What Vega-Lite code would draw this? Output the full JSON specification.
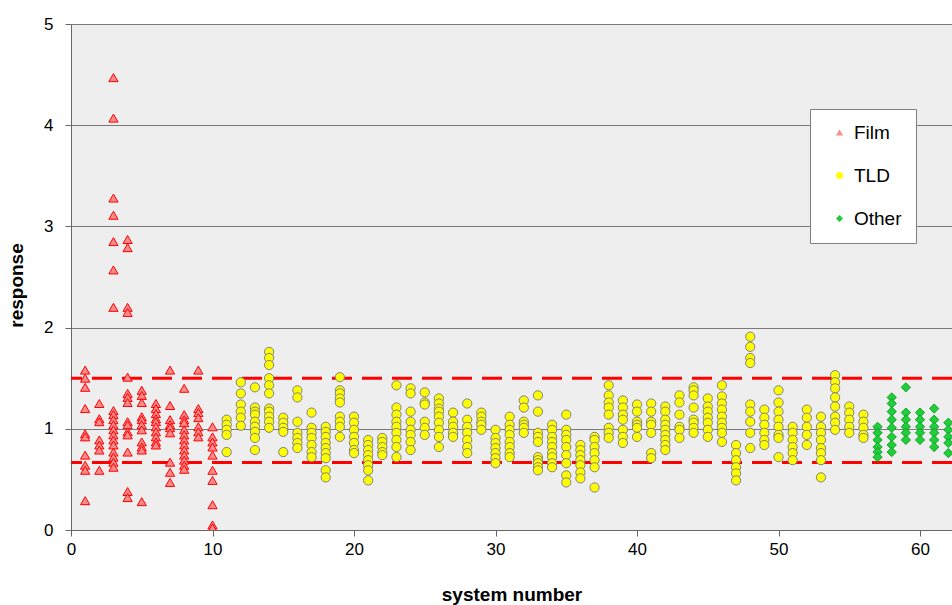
{
  "$schema": "https://vega.github.io/schema/vega-lite/v6.json",
  "autosize": {"type": "none"},
  "padding": {"left": 71, "top": 24, "right": 0, "bottom": 75},
  "width": 881,
  "height": 506,
  "background": "white",
  "config": {
    "view": {"fill": "#eeeeee", "stroke": null},
    "font": "Liberation Sans",
    "axis": {"labelFont": "Liberation Sans", "titleFont": "Liberation Sans", "labelFontSize": 17, "titleFontSize": 19, "titleFontWeight": "bold", "labelColor": "#000", "titleColor": "#000", "gridColor": "#7a7a7a", "gridWidth": 1, "domainColor": "#666", "tickColor": "#666", "tickSize": 6},
    "legend": {"title": null, "orient": "none", "legendX": 739, "legendY": 85, "padding": 14, "rowPadding": 23, "labelFontSize": 19, "labelFont": "Liberation Sans", "labelColor": "#000", "symbolSize": 50, "symbolStrokeWidth": 0, "strokeColor": "#808080", "fillColor": "#ffffff", "labelOffset": 5, "symbolOffset": 6}
  },
  "datasets": {
    "pts": [
      {"s":1,"r":1.58,"t":"Film"},{"s":1,"r":1.5,"t":"Film"},{"s":1,"r":1.41,"t":"Film"},{"s":1,"r":1.2,"t":"Film"},{"s":1,"r":0.95,"t":"Film"},{"s":1,"r":0.92,"t":"Film"},{"s":1,"r":0.74,"t":"Film"},{"s":1,"r":0.64,"t":"Film"},{"s":1,"r":0.59,"t":"Film"},{"s":1,"r":0.29,"t":"Film"},
      {"s":2,"r":1.25,"t":"Film"},{"s":2,"r":1.1,"t":"Film"},{"s":2,"r":1.07,"t":"Film"},{"s":2,"r":0.89,"t":"Film"},{"s":2,"r":0.84,"t":"Film"},{"s":2,"r":0.79,"t":"Film"},{"s":2,"r":0.59,"t":"Film"},
      {"s":3,"r":4.47,"t":"Film"},{"s":3,"r":4.07,"t":"Film"},{"s":3,"r":3.28,"t":"Film"},{"s":3,"r":3.11,"t":"Film"},{"s":3,"r":2.85,"t":"Film"},{"s":3,"r":2.57,"t":"Film"},{"s":3,"r":2.2,"t":"Film"},{"s":3,"r":1.18,"t":"Film"},{"s":3,"r":1.14,"t":"Film"},{"s":3,"r":1.09,"t":"Film"},{"s":3,"r":1.04,"t":"Film"},{"s":3,"r":0.99,"t":"Film"},{"s":3,"r":0.94,"t":"Film"},{"s":3,"r":0.89,"t":"Film"},{"s":3,"r":0.84,"t":"Film"},{"s":3,"r":0.77,"t":"Film"},{"s":3,"r":0.72,"t":"Film"},{"s":3,"r":0.67,"t":"Film"},{"s":3,"r":0.62,"t":"Film"},
      {"s":4,"r":2.87,"t":"Film"},{"s":4,"r":2.79,"t":"Film"},{"s":4,"r":2.2,"t":"Film"},{"s":4,"r":2.15,"t":"Film"},{"s":4,"r":1.51,"t":"Film"},{"s":4,"r":1.35,"t":"Film"},{"s":4,"r":1.31,"t":"Film"},{"s":4,"r":1.26,"t":"Film"},{"s":4,"r":1.07,"t":"Film"},{"s":4,"r":1.04,"t":"Film"},{"s":4,"r":0.97,"t":"Film"},{"s":4,"r":0.94,"t":"Film"},{"s":4,"r":0.77,"t":"Film"},{"s":4,"r":0.38,"t":"Film"},{"s":4,"r":0.32,"t":"Film"},
      {"s":5,"r":1.38,"t":"Film"},{"s":5,"r":1.33,"t":"Film"},{"s":5,"r":1.26,"t":"Film"},{"s":5,"r":1.12,"t":"Film"},{"s":5,"r":1.09,"t":"Film"},{"s":5,"r":1.04,"t":"Film"},{"s":5,"r":0.99,"t":"Film"},{"s":5,"r":0.87,"t":"Film"},{"s":5,"r":0.82,"t":"Film"},{"s":5,"r":0.79,"t":"Film"},{"s":5,"r":0.28,"t":"Film"},
      {"s":6,"r":1.25,"t":"Film"},{"s":6,"r":1.2,"t":"Film"},{"s":6,"r":1.15,"t":"Film"},{"s":6,"r":1.1,"t":"Film"},{"s":6,"r":1.07,"t":"Film"},{"s":6,"r":1.02,"t":"Film"},{"s":6,"r":0.97,"t":"Film"},{"s":6,"r":0.92,"t":"Film"},{"s":6,"r":0.87,"t":"Film"},{"s":6,"r":0.84,"t":"Film"},
      {"s":7,"r":1.58,"t":"Film"},{"s":7,"r":1.23,"t":"Film"},{"s":7,"r":1.09,"t":"Film"},{"s":7,"r":1.04,"t":"Film"},{"s":7,"r":1.01,"t":"Film"},{"s":7,"r":0.96,"t":"Film"},{"s":7,"r":0.67,"t":"Film"},{"s":7,"r":0.57,"t":"Film"},{"s":7,"r":0.47,"t":"Film"},
      {"s":8,"r":1.4,"t":"Film"},{"s":8,"r":1.14,"t":"Film"},{"s":8,"r":1.09,"t":"Film"},{"s":8,"r":1.06,"t":"Film"},{"s":8,"r":0.99,"t":"Film"},{"s":8,"r":0.94,"t":"Film"},{"s":8,"r":0.89,"t":"Film"},{"s":8,"r":0.84,"t":"Film"},{"s":8,"r":0.79,"t":"Film"},{"s":8,"r":0.74,"t":"Film"},{"s":8,"r":0.69,"t":"Film"},{"s":8,"r":0.64,"t":"Film"},{"s":8,"r":0.6,"t":"Film"},
      {"s":9,"r":1.58,"t":"Film"},{"s":9,"r":1.2,"t":"Film"},{"s":9,"r":1.16,"t":"Film"},{"s":9,"r":1.11,"t":"Film"},{"s":9,"r":1.02,"t":"Film"},{"s":9,"r":0.97,"t":"Film"},{"s":9,"r":0.92,"t":"Film"},
      {"s":10,"r":1.02,"t":"Film"},{"s":10,"r":0.92,"t":"Film"},{"s":10,"r":0.87,"t":"Film"},{"s":10,"r":0.82,"t":"Film"},{"s":10,"r":0.74,"t":"Film"},{"s":10,"r":0.59,"t":"Film"},{"s":10,"r":0.49,"t":"Film"},{"s":10,"r":0.25,"t":"Film"},{"s":10,"r":0.05,"t":"Film"},{"s":10,"r":0.02,"t":"Film"},
      {"s":11,"r":1.09,"t":"TLD"},{"s":11,"r":1.04,"t":"TLD"},{"s":11,"r":0.99,"t":"TLD"},{"s":11,"r":0.94,"t":"TLD"},{"s":11,"r":0.77,"t":"TLD"},
      {"s":12,"r":1.46,"t":"TLD"},{"s":12,"r":1.35,"t":"TLD"},{"s":12,"r":1.24,"t":"TLD"},{"s":12,"r":1.17,"t":"TLD"},{"s":12,"r":1.11,"t":"TLD"},{"s":12,"r":1.03,"t":"TLD"},
      {"s":13,"r":1.41,"t":"TLD"},{"s":13,"r":1.21,"t":"TLD"},{"s":13,"r":1.17,"t":"TLD"},{"s":13,"r":1.14,"t":"TLD"},{"s":13,"r":1.07,"t":"TLD"},{"s":13,"r":1.02,"t":"TLD"},{"s":13,"r":0.97,"t":"TLD"},{"s":13,"r":0.91,"t":"TLD"},{"s":13,"r":0.79,"t":"TLD"},
      {"s":14,"r":1.76,"t":"TLD"},{"s":14,"r":1.7,"t":"TLD"},{"s":14,"r":1.63,"t":"TLD"},{"s":14,"r":1.5,"t":"TLD"},{"s":14,"r":1.43,"t":"TLD"},{"s":14,"r":1.35,"t":"TLD"},{"s":14,"r":1.2,"t":"TLD"},{"s":14,"r":1.17,"t":"TLD"},{"s":14,"r":1.12,"t":"TLD"},{"s":14,"r":1.07,"t":"TLD"},{"s":14,"r":1.01,"t":"TLD"},
      {"s":15,"r":1.11,"t":"TLD"},{"s":15,"r":1.06,"t":"TLD"},{"s":15,"r":1.01,"t":"TLD"},{"s":15,"r":0.97,"t":"TLD"},{"s":15,"r":0.77,"t":"TLD"},
      {"s":16,"r":1.38,"t":"TLD"},{"s":16,"r":1.31,"t":"TLD"},{"s":16,"r":1.07,"t":"TLD"},{"s":16,"r":0.96,"t":"TLD"},{"s":16,"r":0.91,"t":"TLD"},{"s":16,"r":0.86,"t":"TLD"},{"s":16,"r":0.81,"t":"TLD"},
      {"s":17,"r":1.16,"t":"TLD"},{"s":17,"r":1.01,"t":"TLD"},{"s":17,"r":0.96,"t":"TLD"},{"s":17,"r":0.91,"t":"TLD"},{"s":17,"r":0.84,"t":"TLD"},{"s":17,"r":0.77,"t":"TLD"},{"s":17,"r":0.72,"t":"TLD"},
      {"s":18,"r":1.02,"t":"TLD"},{"s":18,"r":0.97,"t":"TLD"},{"s":18,"r":0.92,"t":"TLD"},{"s":18,"r":0.86,"t":"TLD"},{"s":18,"r":0.81,"t":"TLD"},{"s":18,"r":0.76,"t":"TLD"},{"s":18,"r":0.71,"t":"TLD"},{"s":18,"r":0.59,"t":"TLD"},{"s":18,"r":0.52,"t":"TLD"},
      {"s":19,"r":1.51,"t":"TLD"},{"s":19,"r":1.38,"t":"TLD"},{"s":19,"r":1.35,"t":"TLD"},{"s":19,"r":1.3,"t":"TLD"},{"s":19,"r":1.26,"t":"TLD"},{"s":19,"r":1.12,"t":"TLD"},{"s":19,"r":1.07,"t":"TLD"},{"s":19,"r":1.02,"t":"TLD"},{"s":19,"r":0.92,"t":"TLD"},
      {"s":20,"r":1.12,"t":"TLD"},{"s":20,"r":1.06,"t":"TLD"},{"s":20,"r":0.99,"t":"TLD"},{"s":20,"r":0.92,"t":"TLD"},{"s":20,"r":0.86,"t":"TLD"},{"s":20,"r":0.79,"t":"TLD"},{"s":20,"r":0.76,"t":"TLD"},
      {"s":21,"r":0.89,"t":"TLD"},{"s":21,"r":0.84,"t":"TLD"},{"s":21,"r":0.79,"t":"TLD"},{"s":21,"r":0.74,"t":"TLD"},{"s":21,"r":0.69,"t":"TLD"},{"s":21,"r":0.64,"t":"TLD"},{"s":21,"r":0.59,"t":"TLD"},{"s":21,"r":0.49,"t":"TLD"},
      {"s":22,"r":0.91,"t":"TLD"},{"s":22,"r":0.87,"t":"TLD"},{"s":22,"r":0.82,"t":"TLD"},{"s":22,"r":0.77,"t":"TLD"},{"s":22,"r":0.74,"t":"TLD"},
      {"s":23,"r":1.43,"t":"TLD"},{"s":23,"r":1.21,"t":"TLD"},{"s":23,"r":1.14,"t":"TLD"},{"s":23,"r":1.07,"t":"TLD"},{"s":23,"r":1.02,"t":"TLD"},{"s":23,"r":0.96,"t":"TLD"},{"s":23,"r":0.89,"t":"TLD"},{"s":23,"r":0.82,"t":"TLD"},{"s":23,"r":0.72,"t":"TLD"},
      {"s":24,"r":1.4,"t":"TLD"},{"s":24,"r":1.35,"t":"TLD"},{"s":24,"r":1.17,"t":"TLD"},{"s":24,"r":1.07,"t":"TLD"},{"s":24,"r":0.99,"t":"TLD"},{"s":24,"r":0.94,"t":"TLD"},{"s":24,"r":0.87,"t":"TLD"},{"s":24,"r":0.79,"t":"TLD"},
      {"s":25,"r":1.36,"t":"TLD"},{"s":25,"r":1.26,"t":"TLD"},{"s":25,"r":1.24,"t":"TLD"},{"s":25,"r":1.07,"t":"TLD"},{"s":25,"r":1.01,"t":"TLD"},{"s":25,"r":0.94,"t":"TLD"},
      {"s":26,"r":1.3,"t":"TLD"},{"s":26,"r":1.25,"t":"TLD"},{"s":26,"r":1.2,"t":"TLD"},{"s":26,"r":1.17,"t":"TLD"},{"s":26,"r":1.12,"t":"TLD"},{"s":26,"r":1.06,"t":"TLD"},{"s":26,"r":0.99,"t":"TLD"},{"s":26,"r":0.92,"t":"TLD"},{"s":26,"r":0.82,"t":"TLD"},
      {"s":27,"r":1.16,"t":"TLD"},{"s":27,"r":1.07,"t":"TLD"},{"s":27,"r":1.02,"t":"TLD"},{"s":27,"r":0.96,"t":"TLD"},{"s":27,"r":0.92,"t":"TLD"},
      {"s":28,"r":1.25,"t":"TLD"},{"s":28,"r":1.09,"t":"TLD"},{"s":28,"r":1.02,"t":"TLD"},{"s":28,"r":0.96,"t":"TLD"},{"s":28,"r":0.89,"t":"TLD"},{"s":28,"r":0.82,"t":"TLD"},{"s":28,"r":0.76,"t":"TLD"},
      {"s":29,"r":1.16,"t":"TLD"},{"s":29,"r":1.12,"t":"TLD"},{"s":29,"r":1.07,"t":"TLD"},{"s":29,"r":1.04,"t":"TLD"},{"s":29,"r":0.99,"t":"TLD"},
      {"s":30,"r":0.99,"t":"TLD"},{"s":30,"r":0.91,"t":"TLD"},{"s":30,"r":0.86,"t":"TLD"},{"s":30,"r":0.81,"t":"TLD"},{"s":30,"r":0.76,"t":"TLD"},{"s":30,"r":0.71,"t":"TLD"},{"s":30,"r":0.66,"t":"TLD"},
      {"s":31,"r":1.12,"t":"TLD"},{"s":31,"r":1.04,"t":"TLD"},{"s":31,"r":0.99,"t":"TLD"},{"s":31,"r":0.94,"t":"TLD"},{"s":31,"r":0.87,"t":"TLD"},{"s":31,"r":0.82,"t":"TLD"},{"s":31,"r":0.76,"t":"TLD"},{"s":31,"r":0.72,"t":"TLD"},
      {"s":32,"r":1.28,"t":"TLD"},{"s":32,"r":1.21,"t":"TLD"},{"s":32,"r":1.07,"t":"TLD"},{"s":32,"r":1.04,"t":"TLD"},{"s":32,"r":1.01,"t":"TLD"},{"s":32,"r":0.96,"t":"TLD"},
      {"s":33,"r":1.33,"t":"TLD"},{"s":33,"r":1.17,"t":"TLD"},{"s":33,"r":0.96,"t":"TLD"},{"s":33,"r":0.92,"t":"TLD"},{"s":33,"r":0.87,"t":"TLD"},{"s":33,"r":0.72,"t":"TLD"},{"s":33,"r":0.69,"t":"TLD"},{"s":33,"r":0.66,"t":"TLD"},{"s":33,"r":0.62,"t":"TLD"},{"s":33,"r":0.59,"t":"TLD"},
      {"s":34,"r":1.04,"t":"TLD"},{"s":34,"r":0.99,"t":"TLD"},{"s":34,"r":0.92,"t":"TLD"},{"s":34,"r":0.87,"t":"TLD"},{"s":34,"r":0.82,"t":"TLD"},{"s":34,"r":0.76,"t":"TLD"},{"s":34,"r":0.72,"t":"TLD"},{"s":34,"r":0.66,"t":"TLD"},{"s":34,"r":0.62,"t":"TLD"},
      {"s":35,"r":1.14,"t":"TLD"},{"s":35,"r":0.99,"t":"TLD"},{"s":35,"r":0.94,"t":"TLD"},{"s":35,"r":0.89,"t":"TLD"},{"s":35,"r":0.82,"t":"TLD"},{"s":35,"r":0.74,"t":"TLD"},{"s":35,"r":0.66,"t":"TLD"},{"s":35,"r":0.54,"t":"TLD"},{"s":35,"r":0.47,"t":"TLD"},
      {"s":36,"r":0.84,"t":"TLD"},{"s":36,"r":0.79,"t":"TLD"},{"s":36,"r":0.74,"t":"TLD"},{"s":36,"r":0.69,"t":"TLD"},{"s":36,"r":0.64,"t":"TLD"},{"s":36,"r":0.57,"t":"TLD"},{"s":36,"r":0.51,"t":"TLD"},
      {"s":37,"r":0.92,"t":"TLD"},{"s":37,"r":0.89,"t":"TLD"},{"s":37,"r":0.82,"t":"TLD"},{"s":37,"r":0.76,"t":"TLD"},{"s":37,"r":0.69,"t":"TLD"},{"s":37,"r":0.62,"t":"TLD"},{"s":37,"r":0.42,"t":"TLD"},
      {"s":38,"r":1.43,"t":"TLD"},{"s":38,"r":1.33,"t":"TLD"},{"s":38,"r":1.26,"t":"TLD"},{"s":38,"r":1.21,"t":"TLD"},{"s":38,"r":1.14,"t":"TLD"},{"s":38,"r":1.01,"t":"TLD"},{"s":38,"r":0.96,"t":"TLD"},{"s":38,"r":0.91,"t":"TLD"},
      {"s":39,"r":1.28,"t":"TLD"},{"s":39,"r":1.21,"t":"TLD"},{"s":39,"r":1.14,"t":"TLD"},{"s":39,"r":1.09,"t":"TLD"},{"s":39,"r":0.99,"t":"TLD"},{"s":39,"r":0.92,"t":"TLD"},{"s":39,"r":0.86,"t":"TLD"},
      {"s":40,"r":1.24,"t":"TLD"},{"s":40,"r":1.17,"t":"TLD"},{"s":40,"r":1.07,"t":"TLD"},{"s":40,"r":1.04,"t":"TLD"},{"s":40,"r":1.01,"t":"TLD"},{"s":40,"r":0.92,"t":"TLD"},
      {"s":41,"r":1.25,"t":"TLD"},{"s":41,"r":1.17,"t":"TLD"},{"s":41,"r":1.07,"t":"TLD"},{"s":41,"r":1.04,"t":"TLD"},{"s":41,"r":0.96,"t":"TLD"},{"s":41,"r":0.76,"t":"TLD"},{"s":41,"r":0.71,"t":"TLD"},
      {"s":42,"r":1.22,"t":"TLD"},{"s":42,"r":1.17,"t":"TLD"},{"s":42,"r":1.09,"t":"TLD"},{"s":42,"r":1.04,"t":"TLD"},{"s":42,"r":0.99,"t":"TLD"},{"s":42,"r":0.94,"t":"TLD"},{"s":42,"r":0.89,"t":"TLD"},{"s":42,"r":0.84,"t":"TLD"},{"s":42,"r":0.79,"t":"TLD"},
      {"s":43,"r":1.33,"t":"TLD"},{"s":43,"r":1.26,"t":"TLD"},{"s":43,"r":1.14,"t":"TLD"},{"s":43,"r":1.02,"t":"TLD"},{"s":43,"r":0.99,"t":"TLD"},{"s":43,"r":0.91,"t":"TLD"},
      {"s":44,"r":1.41,"t":"TLD"},{"s":44,"r":1.38,"t":"TLD"},{"s":44,"r":1.33,"t":"TLD"},{"s":44,"r":1.21,"t":"TLD"},{"s":44,"r":1.09,"t":"TLD"},{"s":44,"r":1.06,"t":"TLD"},{"s":44,"r":1.01,"t":"TLD"},{"s":44,"r":0.96,"t":"TLD"},
      {"s":45,"r":1.3,"t":"TLD"},{"s":45,"r":1.22,"t":"TLD"},{"s":45,"r":1.17,"t":"TLD"},{"s":45,"r":1.11,"t":"TLD"},{"s":45,"r":1.06,"t":"TLD"},{"s":45,"r":0.99,"t":"TLD"},{"s":45,"r":0.92,"t":"TLD"},
      {"s":46,"r":1.43,"t":"TLD"},{"s":46,"r":1.32,"t":"TLD"},{"s":46,"r":1.25,"t":"TLD"},{"s":46,"r":1.19,"t":"TLD"},{"s":46,"r":1.12,"t":"TLD"},{"s":46,"r":1.06,"t":"TLD"},{"s":46,"r":1.01,"t":"TLD"},{"s":46,"r":0.96,"t":"TLD"},{"s":46,"r":0.87,"t":"TLD"},
      {"s":47,"r":0.84,"t":"TLD"},{"s":47,"r":0.76,"t":"TLD"},{"s":47,"r":0.69,"t":"TLD"},{"s":47,"r":0.62,"t":"TLD"},{"s":47,"r":0.56,"t":"TLD"},{"s":47,"r":0.49,"t":"TLD"},
      {"s":48,"r":1.91,"t":"TLD"},{"s":48,"r":1.81,"t":"TLD"},{"s":48,"r":1.7,"t":"TLD"},{"s":48,"r":1.65,"t":"TLD"},{"s":48,"r":1.24,"t":"TLD"},{"s":48,"r":1.17,"t":"TLD"},{"s":48,"r":1.07,"t":"TLD"},{"s":48,"r":0.96,"t":"TLD"},{"s":48,"r":0.81,"t":"TLD"},
      {"s":49,"r":1.19,"t":"TLD"},{"s":49,"r":1.11,"t":"TLD"},{"s":49,"r":1.04,"t":"TLD"},{"s":49,"r":0.96,"t":"TLD"},{"s":49,"r":0.89,"t":"TLD"},{"s":49,"r":0.84,"t":"TLD"},
      {"s":50,"r":1.38,"t":"TLD"},{"s":50,"r":1.26,"t":"TLD"},{"s":50,"r":1.17,"t":"TLD"},{"s":50,"r":1.09,"t":"TLD"},{"s":50,"r":1.02,"t":"TLD"},{"s":50,"r":0.94,"t":"TLD"},{"s":50,"r":0.91,"t":"TLD"},{"s":50,"r":0.72,"t":"TLD"},
      {"s":51,"r":1.02,"t":"TLD"},{"s":51,"r":0.96,"t":"TLD"},{"s":51,"r":0.89,"t":"TLD"},{"s":51,"r":0.82,"t":"TLD"},{"s":51,"r":0.76,"t":"TLD"},{"s":51,"r":0.69,"t":"TLD"},
      {"s":52,"r":1.19,"t":"TLD"},{"s":52,"r":1.11,"t":"TLD"},{"s":52,"r":1.02,"t":"TLD"},{"s":52,"r":0.94,"t":"TLD"},{"s":52,"r":0.84,"t":"TLD"},
      {"s":53,"r":1.12,"t":"TLD"},{"s":53,"r":1.02,"t":"TLD"},{"s":53,"r":0.96,"t":"TLD"},{"s":53,"r":0.89,"t":"TLD"},{"s":53,"r":0.81,"t":"TLD"},{"s":53,"r":0.76,"t":"TLD"},{"s":53,"r":0.69,"t":"TLD"},{"s":53,"r":0.52,"t":"TLD"},
      {"s":54,"r":1.53,"t":"TLD"},{"s":54,"r":1.46,"t":"TLD"},{"s":54,"r":1.4,"t":"TLD"},{"s":54,"r":1.31,"t":"TLD"},{"s":54,"r":1.22,"t":"TLD"},{"s":54,"r":1.12,"t":"TLD"},{"s":54,"r":1.06,"t":"TLD"},{"s":54,"r":0.99,"t":"TLD"},
      {"s":55,"r":1.22,"t":"TLD"},{"s":55,"r":1.16,"t":"TLD"},{"s":55,"r":1.09,"t":"TLD"},{"s":55,"r":1.02,"t":"TLD"},{"s":55,"r":0.96,"t":"TLD"},
      {"s":56,"r":1.14,"t":"TLD"},{"s":56,"r":1.07,"t":"TLD"},{"s":56,"r":1.01,"t":"TLD"},{"s":56,"r":0.94,"t":"TLD"},{"s":56,"r":0.91,"t":"TLD"},
      {"s":57,"r":1.02,"t":"Other"},{"s":57,"r":0.96,"t":"Other"},{"s":57,"r":0.89,"t":"Other"},{"s":57,"r":0.82,"t":"Other"},{"s":57,"r":0.77,"t":"Other"},{"s":57,"r":0.72,"t":"Other"},
      {"s":58,"r":1.31,"t":"Other"},{"s":58,"r":1.25,"t":"Other"},{"s":58,"r":1.17,"t":"Other"},{"s":58,"r":1.09,"t":"Other"},{"s":58,"r":1.01,"t":"Other"},{"s":58,"r":0.92,"t":"Other"},{"s":58,"r":0.84,"t":"Other"},{"s":58,"r":0.77,"t":"Other"},
      {"s":59,"r":1.41,"t":"Other"},{"s":59,"r":1.16,"t":"Other"},{"s":59,"r":1.09,"t":"Other"},{"s":59,"r":1.02,"t":"Other"},{"s":59,"r":0.96,"t":"Other"},{"s":59,"r":0.89,"t":"Other"},
      {"s":60,"r":1.16,"t":"Other"},{"s":60,"r":1.09,"t":"Other"},{"s":60,"r":1.02,"t":"Other"},{"s":60,"r":0.96,"t":"Other"},{"s":60,"r":0.89,"t":"Other"},
      {"s":61,"r":1.2,"t":"Other"},{"s":61,"r":1.09,"t":"Other"},{"s":61,"r":1.02,"t":"Other"},{"s":61,"r":0.96,"t":"Other"},{"s":61,"r":0.89,"t":"Other"},{"s":61,"r":0.82,"t":"Other"},
      {"s":62,"r":1.06,"t":"Other"},{"s":62,"r":0.99,"t":"Other"},{"s":62,"r":0.92,"t":"Other"},{"s":62,"r":0.86,"t":"Other"},{"s":62,"r":0.76,"t":"Other"}
    ],
    "limits": [{"lim": 1.5}, {"lim": 0.667}]
  },
  "layer": [
    {
      "data": {"name": "limits"},
      "mark": {"type": "rule", "color": "#ff0000", "strokeWidth": 3, "strokeDash": [20, 10], "clip": true},
      "encoding": {
        "y": {"field": "lim", "type": "quantitative", "scale": {"domain": [0, 5]}}
      }
    },
    {
      "data": {"name": "pts"},
      "mark": {"type": "point", "filled": true, "strokeWidth": 1, "opacity": 1, "size": 85, "clip": true},
      "encoding": {
        "x": {"field": "s", "type": "quantitative", "scale": {"domain": [0, 62.26], "nice": false, "zero": false},
              "axis": {"values": [0, 10, 20, 30, 40, 50, 60], "format": "d", "grid": false, "labelFlush": false, "title": "system number", "labelPadding": 5, "titlePadding": 28}},
        "y": {"field": "r", "type": "quantitative", "scale": {"domain": [0, 5], "nice": false},
              "axis": {"values": [0, 1, 2, 3, 4, 5], "format": "d", "grid": true, "labelFlush": false, "title": "response", "labelPadding": 12, "titleX": -49, "titleY": 261, "titleBaseline": "alphabetic", "titleAlign": "center", "titleAngle": -90}},
        "shape": {"field": "t", "type": "nominal", "scale": {"domain": ["Film", "TLD", "Other"], "range": ["triangle-up", "circle", "diamond"]}},
        "fill": {"field": "t", "type": "nominal", "scale": {"domain": ["Film", "TLD", "Other"], "range": ["#ff8a8a", "#ffff00", "#1fcf3a"]}},
        "stroke": {"field": "t", "type": "nominal", "scale": {"domain": ["Film", "TLD", "Other"], "range": ["#ff0000", "#7f7f7f", "#15a02a"]}}
      }
    }
  ]
}
